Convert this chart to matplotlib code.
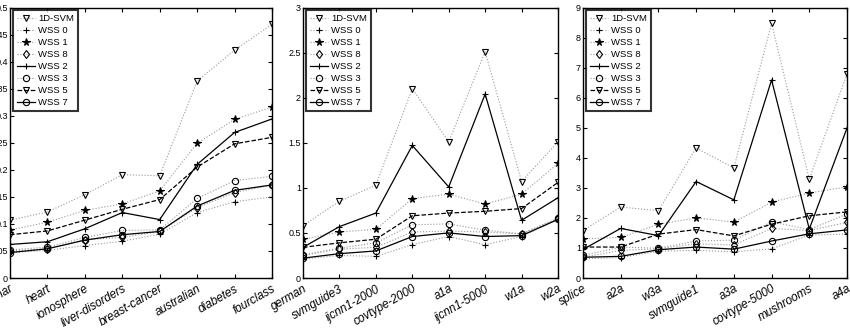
import numpy as np
import matplotlib
matplotlib.use("Agg")
import matplotlib.pyplot as plt

plt.rcParams['font.family'] = ['Liberation Sans Narrow', 'Liberation Sans', 'DejaVu Sans']

# dataset names for each panel
names_1 = ["sonar", "heart", "ionosphere", "liver-disorders", "breast-cancer",
           "australian", "diabetes", "fourclass"]
names_2 = ["german", "svmguide3", "ijcnn1-2000", "covtype-2000", "a1a",
           "ijcnn1-5000", "w1a", "w2a"]
names_3 = ["splice", "a2a", "w3a", "svmguide1", "a3a", "covtype-5000",
           "mushrooms", "a4a"]

series = ["1D-SVM", "WSS 0", "WSS 1", "WSS 8", "WSS 2", "WSS 3", "WSS 5", "WSS 7"]

# panel 1 values
svm1d_1 = [0.107, 0.122, 0.154, 0.191, 0.189, 0.364, 0.421, 0.469]
wss0_1 = [0.047, 0.051, 0.060, 0.068, 0.081, 0.121, 0.141, 0.150]
wss1_1 = [0.089, 0.103, 0.125, 0.137, 0.161, 0.249, 0.293, 0.316]
wss8_1 = [0.050, 0.054, 0.071, 0.075, 0.086, 0.130, 0.158, 0.172]
wss2_1 = [0.062, 0.067, 0.091, 0.121, 0.108, 0.210, 0.269, 0.294]
wss3_1 = [0.052, 0.057, 0.075, 0.088, 0.089, 0.147, 0.180, 0.188]
wss5_1 = [0.080, 0.087, 0.107, 0.127, 0.145, 0.205, 0.248, 0.260]
wss7_1 = [0.047, 0.054, 0.070, 0.080, 0.086, 0.133, 0.162, 0.172]

# panel 2 values
svm1d_2 = [0.58, 0.85, 1.03, 2.10, 1.51, 2.51, 1.07, 1.51]
wss0_2 = [0.21, 0.25, 0.24, 0.37, 0.46, 0.37, 0.46, 0.65]
wss1_2 = [0.43, 0.51, 0.54, 0.88, 0.93, 0.82, 0.93, 1.27]
wss8_2 = [0.25, 0.32, 0.34, 0.51, 0.52, 0.51, 0.49, 0.66]
wss2_2 = [0.34, 0.57, 0.72, 1.47, 1.01, 2.04, 0.64, 0.89]
wss3_2 = [0.26, 0.33, 0.39, 0.59, 0.60, 0.53, 0.49, 0.66]
wss5_2 = [0.34, 0.39, 0.43, 0.69, 0.72, 0.74, 0.77, 1.06]
wss7_2 = [0.22, 0.27, 0.30, 0.46, 0.50, 0.46, 0.47, 0.65]

# panel 3 values
svm1d_3 = [1.58, 2.36, 2.24, 4.33, 3.66, 8.47, 3.29, 6.79]
wss0_3 = [0.64, 0.68, 0.89, 0.92, 0.87, 0.97, 1.43, 1.46]
wss1_3 = [1.30, 1.35, 1.79, 2.00, 1.86, 2.52, 2.83, 3.03]
wss8_3 = [0.69, 0.92, 0.97, 1.14, 1.10, 1.65, 1.58, 1.85]
wss2_3 = [0.95, 1.65, 1.41, 3.21, 2.60, 6.59, 1.63, 4.99]
wss3_3 = [0.75, 1.03, 0.99, 1.23, 1.26, 1.87, 1.61, 2.13]
wss5_3 = [1.03, 1.03, 1.46, 1.61, 1.40, 1.79, 2.07, 2.20]
wss7_3 = [0.69, 0.72, 0.94, 1.03, 0.96, 1.23, 1.47, 1.60]

panels = [
    (names_1, [svm1d_1, wss0_1, wss1_1, wss8_1, wss2_1, wss3_1, wss5_1, wss7_1], np.arange(0, 0.501, 0.05),
     ["0", "0.05", "0.1", "0.15", "0.2", "0.25", "0.3", "0.35", "0.4", "0.45", "0.5"]),
    (names_2, [svm1d_2, wss0_2, wss1_2, wss8_2, wss2_2, wss3_2, wss5_2, wss7_2], np.arange(0, 3.01, 0.5),
     ["0", "0.5", "1", "1.5", "2", "2.5", "3"]),
    (names_3, [svm1d_3, wss0_3, wss1_3, wss8_3, wss2_3, wss3_3, wss5_3, wss7_3], np.arange(0, 9.01, 1),
     [str(i) for i in range(10)]),
]

# line style per series: (linestyle, marker, filled)
styles = [(":", "v", False), (":", "+", False), (":", "*", True), (":", "d", False),
          ("-", "+", False), (":", "o", False), ("--", "v", False), ("-", "o", False)]

fig = plt.figure(figsize=(8.5, 3.28), dpi=100)
boxes = [[10 / 850, 50 / 328, 262 / 850, 270.5 / 328],
         [303 / 850, 50 / 328, 255 / 850, 270.5 / 328],
         [583 / 850, 50 / 328, 264 / 850, 270.5 / 328]]

for box, (names, vals, yt, ytl) in zip(boxes, panels):
    ax = fig.add_axes(box)
    x = np.arange(len(names))
    for lab, v, (ls, mk, filled) in zip(series, vals, styles):
        solid = ls != ":"
        ax.plot(x, v, linestyle=ls, color="k" if solid else "0.6",
                linewidth=0.9 if solid else 0.8,
                marker=mk, markersize=4.5 if mk != "*" else 5.5,
                markeredgecolor="k", markeredgewidth=0.8,
                markerfacecolor="k" if filled else "none", label=lab)
    ax.set_xlim(0, len(names) - 1)
    ax.set_ylim(yt[0], yt[-1])
    ax.set_yticks(yt)
    ax.set_yticklabels(ytl, fontsize=6.5)
    ax.set_xticks(x)
    ax.set_xticklabels(names, rotation=30, ha="right", fontsize=8.5, style="italic",
                       rotation_mode="anchor")
    ax.tick_params(axis="y", pad=1.5)
    ax.tick_params(direction="in", top=True, right=True, length=3, width=0.8)
    for sp in ax.spines.values():
        sp.set_linewidth(1.0)
    leg = ax.legend(loc="upper left", fontsize=6.8, frameon=True, fancybox=False,
                    handlelength=1.9, handletextpad=0.4, labelspacing=0.32,
                    borderpad=0.4, borderaxespad=0.3)
    leg.get_frame().set_edgecolor("k")
    leg.get_frame().set_linewidth(1.5)

fig.savefig("out.png", dpi=100)
